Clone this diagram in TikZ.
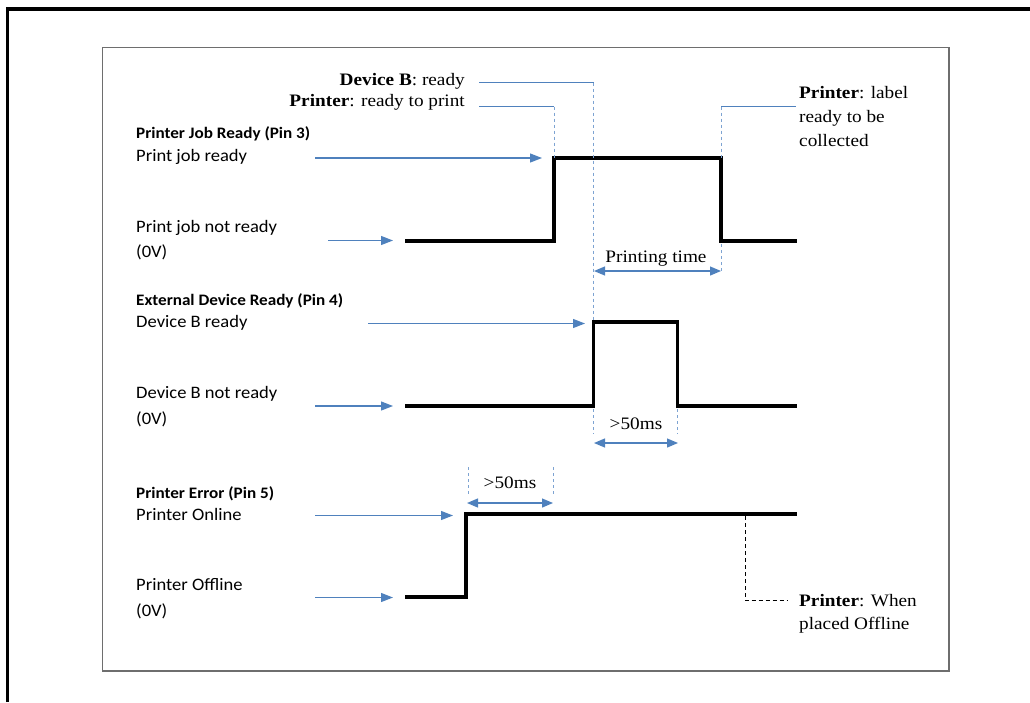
\documentclass[tikz,border=0pt]{standalone}
\usepackage{fontspec}
\setmainfont[FakeStretch=1.1]{Liberation Serif}
\newfontfamily\calibri[FakeStretch=1.06]{Carlito}
\newfontfamily\calibrihead[FakeStretch=1.07]{Carlito}
\usetikzlibrary{arrows.meta}
\definecolor{arrowblue}{RGB}{79,129,189}
\definecolor{dotblue}{RGB}{125,163,210}
\definecolor{framegray}{RGB}{110,110,110}
\begin{document}
\begin{tikzpicture}[x=1pt,y=-1pt,
  sig/.style={line width=3.8pt, line join=miter, line cap=rect},
  ptr/.style={arrowblue, line width=1.2pt, -{Triangle[length=12pt,width=9pt]}},
  dimline/.style={arrowblue, line width=1.2pt, {Triangle[length=11pt,width=9pt]}-{Triangle[length=11pt,width=9pt]}},
  lead/.style={arrowblue, line width=1.2pt},
  guide/.style={dotblue, line width=1pt, dash pattern=on 3pt off 3pt},
  sl/.style={font=\calibri\fontsize{17.5}{20}\selectfont, anchor=base west, inner sep=0},
  sh/.style={font=\calibrihead\bfseries\fontsize{16}{18}\selectfont, anchor=base west, inner sep=0},
  tl/.style={font=\fontsize{17.5}{22}\selectfont, inner sep=0}
]
\useasboundingbox (0,0) rectangle (1030,702);
% frames
\draw[line width=3.5pt] (7.7,702) -- (7.7,9) -- (1030,9);
\draw[framegray, line width=1.3pt] (102.5,47.5) rectangle (949,671);

% ---------- Signal 1: Printer Job Ready ----------
\coordinate (a0) at (407,241);
\coordinate (a1) at (554,241);
\coordinate (a2) at (554,158);
\coordinate (a3) at (721,158);
\coordinate (a4) at (721,241);
\coordinate (a5) at (795,241);
\draw[sig] (a0) -- (a1) -- (a2) -- (a3) -- (a4) -- (a5);

\node[sh] (h1) at (136,138) {Printer Job Ready (Pin 3)};
\node[sl] (l1a) at (136,161) {Print job ready};
\node[sl] (l1b) at (136,232) {Print job not ready};
\node[sl] (l1c) at (136,257) {(0V)};
\coordinate (p1s) at (315,158);
\coordinate (p1e) at (542,158);
\draw[ptr] (p1s) -- (p1e);
\coordinate (q1s) at (328,240.5);
\coordinate (q1e) at (393,240.5);
\draw[ptr] (q1s) -- (q1e);

% top annotations
\node[tl, anchor=base east] (devB) at (465,85) {\textbf{Device B}: ready};
\node[tl, anchor=base east] (prnR) at (465,106) {\textbf{Printer}: ready to print};
\coordinate (devBl) at (479,82.5);
\coordinate (devBc) at (593.5,82.5);
\coordinate (devBd) at (593.5,320);
\draw[lead] (devBl) -- (devBc);
\draw[guide] (devBc) -- (devBd);
\coordinate (prnRl) at (479,106.5);
\coordinate (prnRc) at (554,106.5);
\draw[lead] (prnRl) -- (prnRc);
\draw[guide] (prnRc) -- (a2);

\coordinate (lblc) at (721,106.5);
\coordinate (lble) at (796,106.5);
\draw[lead] (lblc) -- (lble);
\draw[guide] (lblc) -- (a3);
\node[tl, anchor=base west] (lbl1) at (799,98) {\textbf{Printer}: label};
\node[tl, anchor=base west] (lbl2) at (799,122) {ready to be};
\node[tl, anchor=base west] (lbl3) at (799,146) {collected};

% printing time
\coordinate (pt0) at (721.5,244);
\coordinate (pt1) at (721.5,273);
\draw[guide] (pt0) -- (pt1);
\coordinate (ptl) at (594,271);
\coordinate (ptr) at (721,271);
\draw[dimline] (ptl) -- (ptr);
\node[tl, anchor=base] (ptxt) at (656,262) {Printing time};

% ---------- Signal 2: External Device Ready ----------
\coordinate (b0) at (407,406);
\coordinate (b1) at (593.5,406);
\coordinate (b2) at (593.5,322);
\coordinate (b3) at (677.5,322);
\coordinate (b4) at (677.5,406);
\coordinate (b5) at (795,406);
\draw[sig] (b0) -- (b1) -- (b2) -- (b3) -- (b4) -- (b5);

\node[sh] (h2) at (136,305) {External Device Ready (Pin 4)};
\node[sl] (l2a) at (136,327) {Device B ready};
\node[sl] (l2b) at (136,398) {Device B not ready};
\node[sl] (l2c) at (136,424) {(0V)};
\coordinate (p2s) at (368,323.5);
\coordinate (p2e) at (585,323.5);
\draw[ptr] (p2s) -- (p2e);
\coordinate (q2s) at (315,406);
\coordinate (q2e) at (393,406);
\draw[ptr] (q2s) -- (q2e);

\coordinate (g2a) at (593.5,409);
\coordinate (g2b) at (593.5,434);
\coordinate (g2c) at (677.5,409);
\coordinate (g2d) at (677.5,434);
\draw[guide] (g2a) -- (g2b);
\draw[guide] (g2c) -- (g2d);
\coordinate (d2l) at (594,443);
\coordinate (d2r) at (678,443);
\draw[dimline] (d2l) -- (d2r);
\node[tl, anchor=base] (d2t) at (636,429) {>50ms};

% ---------- Signal 3: Printer Error ----------
\coordinate (c0) at (407,597);
\coordinate (c1) at (466,597);
\coordinate (c2) at (466,514);
\coordinate (c3) at (795,514);
\draw[sig] (c0) -- (c1) -- (c2) -- (c3);

\node[sh] (h3) at (136,498) {Printer Error (Pin 5)};
\node[sl] (l3a) at (136,520) {Printer Online};
\node[sl] (l3b) at (136,590) {Printer Offline};
\node[sl] (l3c) at (136,616) {(0V)};
\coordinate (p3s) at (315,515.5);
\coordinate (p3e) at (453,515.5);
\draw[ptr] (p3s) -- (p3e);
\coordinate (q3s) at (315,597.5);
\coordinate (q3e) at (393,597.5);
\draw[ptr] (q3s) -- (q3e);

\coordinate (g3a) at (468.5,467);
\coordinate (g3b) at (468.5,496);
\coordinate (g3c) at (553,467);
\coordinate (g3d) at (553,496);
\draw[guide] (g3a) -- (g3b);
\draw[guide] (g3c) -- (g3d);
\coordinate (d3l) at (467,503);
\coordinate (d3r) at (553,503);
\draw[dimline] (d3l) -- (d3r);
\node[tl, anchor=base] (d3t) at (510,488) {>50ms};

% offline annotation
\coordinate (offa) at (745,516);
\coordinate (offb) at (745,600.5);
\coordinate (offc) at (788,600.5);
\draw[line width=0.9pt, dash pattern=on 4pt off 3pt] (offa) -- (offb) -- (offc);
\node[tl, anchor=base west] (offt1) at (799,606) {\textbf{Printer}: When};
\node[tl, anchor=base west] (offt2) at (799,629) {placed Offline};
\end{tikzpicture}
\end{document}
